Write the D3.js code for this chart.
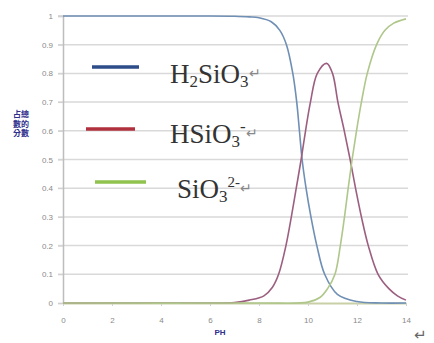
<!DOCTYPE html>
<html>
<head>
<meta charset="utf-8">
<script src="https://cdn.jsdelivr.net/npm/d3@7"></script>
<style>
  body { margin: 0; background: #fff; }
  svg { display: block; }
</style>
</head>
<body>
<div id="fig"></div>
<script>
// values
var yTicks = [0, 0.1, 0.2, 0.3, 0.4, 0.5, 0.6, 0.7, 0.8, 0.9, 1];
var xTicks = [0, 2, 4, 6, 8, 10, 12, 14];

var phBlue   = [0, 2, 4, 6, 7, 7.6, 8.0, 8.5, 8.85, 9.12, 9.38, 9.54, 9.65, 9.76, 9.92, 10.12, 10.36, 10.68, 11.2, 12, 13, 14];
var fracBlue = [1, 1, 1, 1, 0.999, 0.997, 0.994, 0.98, 0.95, 0.90, 0.80, 0.70, 0.60, 0.50, 0.40, 0.30, 0.20, 0.10, 0.03, 0.005, 0, 0];

var phRed   = [0, 6, 7, 7.6, 8.2, 8.55, 8.8, 9.1, 9.32, 9.52, 9.72, 9.9, 10.1, 10.38, 10.76, 11.0, 11.22, 11.48, 11.72, 11.94, 12.18, 12.46, 12.86, 13.3, 13.65, 14];
var fracRed = [0, 0, 0.002, 0.01, 0.025, 0.055, 0.10, 0.20, 0.30, 0.40, 0.50, 0.60, 0.70, 0.80, 0.835, 0.80, 0.70, 0.60, 0.50, 0.40, 0.30, 0.20, 0.10, 0.05, 0.025, 0.01];

var phGreen   = [0, 8, 10, 10.5, 10.8, 11.1, 11.32, 11.49, 11.64, 11.8, 11.98, 12.18, 12.42, 12.8, 13.14, 13.5, 14];
var fracGreen = [0, 0, 0.003, 0.02, 0.05, 0.10, 0.20, 0.30, 0.40, 0.50, 0.60, 0.70, 0.80, 0.90, 0.95, 0.975, 0.99];

var W = 434, H = 343;

var svg = d3.select("#fig")
  .append("svg")
  .attr("width", W)
  .attr("height", H);

var x = d3.scaleLinear().domain([0, 14]).range([63, 406]);
var y = d3.scaleLinear().domain([0, 1]).range([303, 16]);

// gridlines
svg.append("g")
  .selectAll("line")
  .data(yTicks.filter(function(d) { return d > 0; }))
  .enter()
  .append("line")
    .attr("x1", 58)
    .attr("x2", 408)
    .attr("y1", function(d) { return y(d); })
    .attr("y2", function(d) { return y(d); })
    .attr("stroke", "#d9d9d9")
    .attr("stroke-width", 1.5);

// Y axis
var yAxis = svg.append("g")
  .attr("transform", "translate(" + x(0) + ",0)")
  .call(d3.axisLeft(y).tickValues(yTicks).tickSize(5).tickFormat(function(d) { return d; }));
yAxis.select(".domain").attr("stroke", "#bdbdbd").attr("stroke-width", 1.5);
yAxis.selectAll(".tick line").attr("stroke", "#cfcfcf");
yAxis.selectAll("text")
  .attr("fill", "#8a8a8a")
  .attr("x", -10)
  .style("font-family", "Liberation Sans, Arial, sans-serif")
  .style("font-size", "8px");

// X axis
var xAxis = svg.append("g")
  .attr("transform", "translate(0," + y(0) + ")")
  .call(d3.axisBottom(x).tickValues(xTicks).tickSize(3).tickSizeOuter(0));
xAxis.select(".domain").attr("stroke", "#c9d0a6").attr("stroke-width", 2);
xAxis.selectAll(".tick line").attr("stroke", "#d0d0d0");
xAxis.selectAll("text")
  .attr("fill", "#8a8a8a")
  .attr("y", 14)
  .style("font-family", "Liberation Sans, Arial, sans-serif")
  .style("font-size", "8px");

// curves
var series = [
  { ph: phBlue, frac: fracBlue, color: "#6f8fb4" },
  { ph: phRed, frac: fracRed, color: "#9c5f80" },
  { ph: phGreen, frac: fracGreen, color: "#afc78a" }
];

var line = d3.line()
  .x(function(d) { return x(d[0]); })
  .y(function(d) { return y(d[1]); })
  .curve(d3.curveCatmullRom.alpha(0.5));

svg.append("g")
  .selectAll("path")
  .data(series)
  .enter()
  .append("path")
    .attr("d", function(s) { return line(d3.zip(s.ph, s.frac)); })
    .attr("fill", "none")
    .attr("stroke", function(s) { return s.color; })
    .attr("stroke-width", 1.6);

// legend
var legendLines = [
  { x1: 92, x2: 139, y: 67, color: "#2d4c88" },
  { x1: 86, x2: 135, y: 129, color: "#b0303d" },
  { x1: 95, x2: 146, y: 182, color: "#8fc24e" }
];

svg.append("g")
  .selectAll("line")
  .data(legendLines)
  .enter()
  .append("line")
    .attr("x1", function(d) { return d.x1; })
    .attr("x2", function(d) { return d.x2; })
    .attr("y1", function(d) { return d.y; })
    .attr("y2", function(d) { return d.y; })
    .attr("stroke", function(d) { return d.color; })
    .attr("stroke-width", 3.5);

var serif = "Liberation Serif, Times New Roman, serif";

function label(xp, yp, parts) {
  var t = svg.append("text")
    .attr("x", xp)
    .attr("y", yp)
    .attr("fill", "#333")
    .style("font-family", serif);
  parts.forEach(function(p) {
    t.append("tspan")
      .attr("dy", p.dy || 0)
      .attr("fill", p.fill || null)
      .style("font-size", p.size + "px")
      .text(p.t);
  });
}

label(170, 83, [
  { t: "H", size: 27 },
  { t: "2", size: 17, dy: 4 },
  { t: "SiO", size: 27, dy: -4 },
  { t: "3", size: 17, dy: 4 },
  { t: "\u21b5", size: 14, dy: -9, fill: "#888" }
]);

label(170, 143, [
  { t: "HSiO", size: 27 },
  { t: "3", size: 17, dy: 4 },
  { t: "-", size: 17, dy: -15 },
  { t: "\u21b5", size: 14, dy: 6, fill: "#888" }
]);

label(177, 198, [
  { t: "SiO", size: 27 },
  { t: "3", size: 17, dy: 4 },
  { t: "2-", size: 15, dy: -15 },
  { t: "\u21b5", size: 14, dy: 6, fill: "#888" }
]);

// axis titles
var yTitle = ["占總", "數的", "分數"];
svg.append("g")
  .selectAll("text")
  .data(yTitle)
  .enter()
  .append("text")
    .attr("x", 21)
    .attr("y", function(d, i) { return 117 + i * 9.5; })
    .attr("text-anchor", "middle")
    .attr("fill", "#2e2e8c")
    .style("font-family", "Noto Sans CJK TC, sans-serif")
    .style("font-weight", "bold")
    .style("font-size", "8px")
    .text(function(d) { return d; });

svg.append("text")
  .attr("x", 220)
  .attr("y", 335)
  .attr("text-anchor", "middle")
  .attr("fill", "#2e2e8c")
  .style("font-family", "Liberation Sans, Arial, sans-serif")
  .style("font-weight", "bold")
  .style("font-size", "8px")
  .text("PH");

svg.append("text")
  .attr("x", 414)
  .attr("y", 340)
  .attr("fill", "#666")
  .style("font-family", "DejaVu Sans, sans-serif")
  .style("font-size", "15px")
  .text("\u21b5");
</script>
</body>
</html>
